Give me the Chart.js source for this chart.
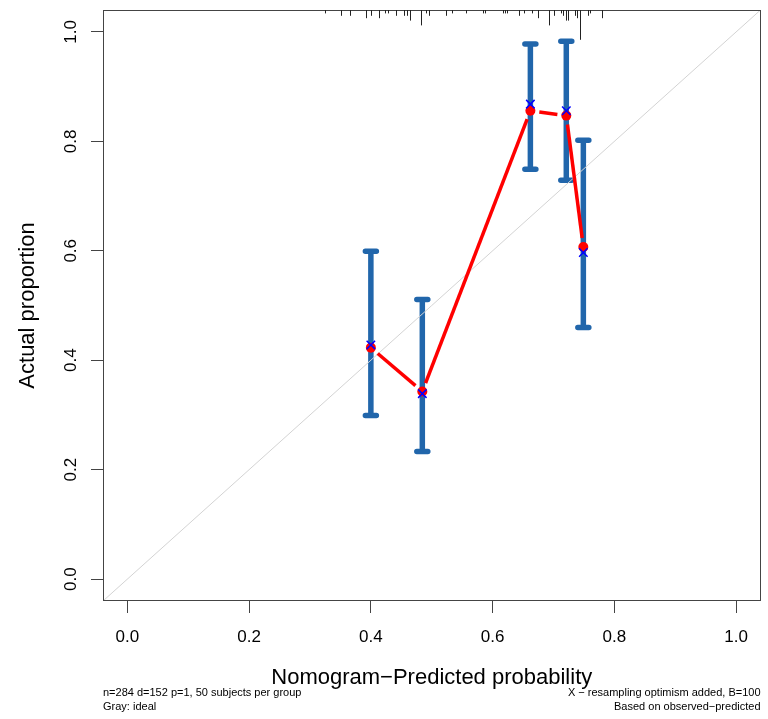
<!DOCTYPE html>
<html>
<head>
<meta charset="utf-8">
<script src="https://cdn.jsdelivr.net/npm/chart.js@4.4.1/dist/chart.umd.min.js"></script>
<style>
  html, body { margin: 0; padding: 0; background: #fff; }
  #wrap { width: 768px; height: 719px; }
</style>
</head>
<body>
<div id="wrap"><canvas id="calib"></canvas></div>
<script>
// calibration groups
var predicted = [0.400, 0.4845, 0.662, 0.721, 0.749];
var apparent = [0.423, 0.343, 0.856, 0.847, 0.607];
var biasCorrected = [0.428, 0.339, 0.868, 0.856, 0.597];
var ciLower = [0.299, 0.233, 0.749, 0.729, 0.460];
var ciUpper = [0.599, 0.511, 0.978, 0.983, 0.802];

// distribution of predicted values (rug along the top)
var rugX = [0.325, 0.351, 0.365, 0.392, 0.401, 0.414, 0.424, 0.428, 0.442, 0.455,
            0.459, 0.465, 0.483, 0.491, 0.496, 0.524, 0.534, 0.556, 0.584, 0.588,
            0.617, 0.620, 0.624, 0.643, 0.651, 0.664, 0.674, 0.693, 0.701, 0.712,
            0.715, 0.720, 0.724, 0.735, 0.739, 0.743, 0.756, 0.760, 0.780];
var rugCount = [1, 2, 2, 3, 2, 3, 1, 1, 2, 2,
                2, 4, 6, 1, 2, 2, 1, 1, 1, 1,
                1, 1, 1, 2, 1, 1, 3, 6, 2, 1,
                2, 4, 4, 2, 3, 12, 2, 1, 3];

var axisTicks = [0, 0.2, 0.4, 0.6, 0.8, 1.0];
var axisMin = -0.04, axisMax = 1.04;

var FONT = '"Liberation Sans", Arial, Helvetica, sans-serif';
var barColor = '#2166ab';

// box, rug, error bars, labels
var calibPlugin = {
    id: 'calib',
    beforeDatasetsDraw: function (chart) {
        var ctx = chart.ctx, xs = chart.scales.x, ys = chart.scales.y;
        ctx.save();
        ctx.strokeStyle = barColor;
        ctx.lineCap = 'round';
        ctx.lineWidth = 5.5;
        for (var i = 0; i < predicted.length; i++) {
            var px = xs.getPixelForValue(predicted[i]);
            var lo = ys.getPixelForValue(ciLower[i]);
            var hi = ys.getPixelForValue(ciUpper[i]);
            ctx.beginPath();
            ctx.moveTo(px, lo); ctx.lineTo(px, hi);
            ctx.moveTo(px - 5.5, lo); ctx.lineTo(px + 5.5, lo);
            ctx.moveTo(px - 5.5, hi); ctx.lineTo(px + 5.5, hi);
            ctx.stroke();
        }
        ctx.restore();
    },
    afterDatasetDraw: function (chart, args) {
        if (args.index !== 2) return;
        // red connecting line with gaps around the points
        var ctx = chart.ctx, xs = chart.scales.x, ys = chart.scales.y;
        var gap = 9;
        ctx.save();
        ctx.strokeStyle = '#ff0000';
        ctx.lineWidth = 3.5;
        ctx.lineCap = 'butt';
        for (var i = 0; i < predicted.length - 1; i++) {
            var x1 = xs.getPixelForValue(predicted[i]), y1 = ys.getPixelForValue(apparent[i]);
            var x2 = xs.getPixelForValue(predicted[i + 1]), y2 = ys.getPixelForValue(apparent[i + 1]);
            var len = Math.hypot(x2 - x1, y2 - y1);
            if (len <= 2 * gap) continue;
            var ux = (x2 - x1) / len, uy = (y2 - y1) / len;
            ctx.beginPath();
            ctx.moveTo(x1 + ux * gap, y1 + uy * gap);
            ctx.lineTo(x2 - ux * gap, y2 - uy * gap);
            ctx.stroke();
        }
        ctx.restore();
    },
    afterDraw: function (chart) {
        var ctx = chart.ctx, a = chart.chartArea, xs = chart.scales.x, ys = chart.scales.y;
        ctx.save();
        ctx.strokeStyle = '#444';
        ctx.lineWidth = 1;
        ctx.strokeRect(Math.round(a.left) + 0.5, Math.round(a.top) + 0.5,
                       Math.round(a.right - a.left) - 1, Math.round(a.bottom - a.top) - 1);

        // rug
        ctx.strokeStyle = '#222';
        ctx.beginPath();
        for (var i = 0; i < rugX.length; i++) {
            var rx = Math.round(xs.getPixelForValue(rugX[i])) + 0.5;
            ctx.moveTo(rx, a.top);
            ctx.lineTo(rx, a.top + 1 + rugCount[i] * 2.4);
        }
        ctx.stroke();

        ctx.fillStyle = '#000';
        // y tick labels, rotated
        ctx.font = '17px ' + FONT;
        ctx.textAlign = 'center';
        ctx.textBaseline = 'middle';
        axisTicks.forEach(function (v) {
            ctx.save();
            ctx.translate(71, ys.getPixelForValue(v));
            ctx.rotate(-Math.PI / 2);
            ctx.fillText(v.toFixed(1), 0, 0);
            ctx.restore();
        });

        // axis titles
        ctx.font = '22px ' + FONT;
        ctx.save();
        ctx.translate(28, (a.top + a.bottom) / 2);
        ctx.rotate(-Math.PI / 2);
        ctx.fillText('Actual proportion', 0, 0);
        ctx.restore();
        ctx.fillText('Nomogram\u2212Predicted probability', (a.left + a.right) / 2, 678);

        // subtitles
        ctx.font = '11px ' + FONT;
        ctx.textAlign = 'left';
        ctx.fillText('n=284 d=152 p=1, 50 subjects per group', a.left, 693);
        ctx.fillText('Gray: ideal', a.left, 707);
        ctx.textAlign = 'right';
        ctx.fillText('X \u2212 resampling optimism added, B=100', a.right, 693);
        ctx.fillText('Based on observed\u2212predicted', a.right, 707);
        ctx.restore();
    }
};

function fixTicks(scale) {
    scale.ticks = axisTicks.map(function (v) { return { value: v }; });
}

new Chart(document.getElementById('calib'), {
    type: 'scatter',
    data: {
        datasets: [{
            label: 'Bias-corrected',
            data: predicted.map(function (x, i) { return { x: x, y: biasCorrected[i] }; }),
            pointStyle: 'crossRot',
            pointRadius: 6,
            pointBorderWidth: 1.5,
            borderColor: '#0000ff',
            backgroundColor: '#0000ff',
            order: 1
        }, {
            label: 'Apparent',
            data: predicted.map(function (x, i) { return { x: x, y: apparent[i] }; }),
            pointStyle: 'circle',
            pointRadius: 5,
            pointBorderWidth: 0,
            backgroundColor: '#ff0000',
            borderColor: '#ff0000',
            order: 2
        }, {
            label: 'Ideal',
            type: 'line',
            data: [{ x: axisMin, y: axisMin }, { x: axisMax, y: axisMax }],
            borderColor: '#d3d3d3',
            borderWidth: 1,
            pointRadius: 0,
            fill: false,
            order: 3
        }]
    },
    options: {
        responsive: true,
        maintainAspectRatio: false,
        animation: false,
        layout: { padding: { top: 10, right: 2, left: 0, bottom: 0 } },
        plugins: {
            legend: { display: false },
            tooltip: { enabled: false }
        },
        scales: {
            x: {
                type: 'linear',
                min: axisMin,
                max: axisMax,
                afterBuildTicks: fixTicks,
                afterFit: function (scale) {
                    scale.height = 118;
                    scale.paddingLeft = 0;
                    scale.paddingRight = 0;
                },
                border: { display: false },
                grid: { drawOnChartArea: false, drawTicks: true, tickLength: 12, color: '#444', tickColor: '#444' },
                ticks: {
                    font: { family: FONT, size: 17 },
                    color: '#000',
                    padding: 14,
                    maxRotation: 0,
                    callback: function (v) { return v.toFixed(1); }
                }
            },
            y: {
                type: 'linear',
                min: axisMin,
                max: axisMax,
                afterBuildTicks: fixTicks,
                afterFit: function (scale) {
                    scale.width = 103;
                    scale.paddingTop = 0;
                    scale.paddingBottom = 0;
                },
                border: { display: false },
                grid: { drawOnChartArea: false, drawTicks: true, tickLength: 12, color: '#444', tickColor: '#444' },
                ticks: { display: false }
            }
        }
    },
    plugins: [calibPlugin]
});
</script>
</body>
</html>
